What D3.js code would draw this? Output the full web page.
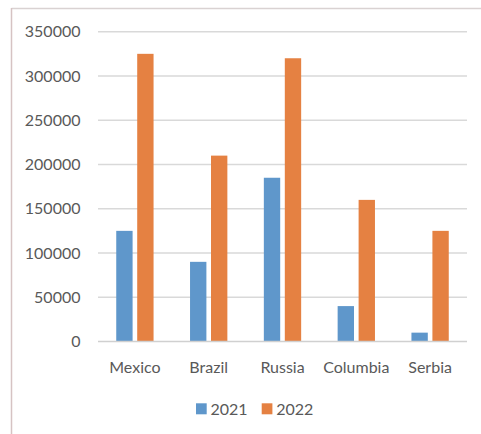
<!DOCTYPE html>
<html>
<head>
<meta charset="utf-8">
<script src="https://cdn.jsdelivr.net/npm/d3@7"></script>
<style>
  html, body { margin: 0; padding: 0; background: #fff; }
  svg { display: block; }
  text { font-family: Lato, "Open Sans", sans-serif; fill: #595959; }
</style>
</head>
<body>
<svg id="chart" width="481" height="434"></svg>
<script>
// Countries and yearly values
const categories = ["Mexico", "Brazil", "Russia", "Columbia", "Serbia"];
const seriesNames = ["2021", "2022"];
const values2021 = [125000, 90000, 185000, 40000, 10000];
const values2022 = [325000, 210000, 320000, 160000, 125000];
const yTicks = [0, 50000, 100000, 150000, 200000, 250000, 300000, 350000];
const colors = ["#5f97cb", "#e58142"];

const series = [values2021, values2022];

const svg = d3.select("#chart");
const W = 481, H = 434;

// Frame: top and left edges
svg.append("line").attr("x1", 11.5).attr("x2", W).attr("y1", 8.5).attr("y2", 8.5)
  .attr("stroke", "#d9d2d2").attr("stroke-width", 1.5);
svg.append("line").attr("x1", 11.5).attr("x2", 11.5).attr("y1", 8).attr("y2", H)
  .attr("stroke", "#d6c3c3").attr("stroke-width", 1.5);

const plot = { left: 98, right: 467, top: 31.7, bottom: 341.5 };

const x = d3.scaleBand().domain(categories).range([plot.left, plot.right]);
const xs = d3.scaleBand().domain(seriesNames).range([0, x.bandwidth()])
  .paddingInner(0.22).paddingOuter(0.87);
const y = d3.scaleLinear().domain([0, 350000]).range([plot.bottom, plot.top]);

// Gridlines
svg.append("g").selectAll("line").data(yTicks.filter(d => d > 0)).join("line")
  .attr("x1", plot.left).attr("x2", plot.right)
  .attr("y1", d => y(d)).attr("y2", d => y(d))
  .attr("stroke", "#d9d9d9").attr("stroke-width", 1.5);

// Y axis labels
const yAxis = d3.axisLeft(y).tickValues(yTicks).tickSize(0).tickPadding(0)
  .tickFormat(d3.format("d"));
const gy = svg.append("g").attr("transform", `translate(${plot.left - 17.5},0)`).call(yAxis);
gy.select(".domain").remove();
gy.selectAll("text").attr("font-size", 16).attr("fill", "#595959")
  .style("font-family", "Lato, 'Open Sans', sans-serif");

// Bars
const groups = svg.append("g").selectAll("g").data(categories).join("g")
  .attr("transform", d => `translate(${x(d)},0)`);
groups.selectAll("rect")
  .data((c, i) => seriesNames.map((s, j) => ({ s, v: series[j][i], j })))
  .join("rect")
  .attr("x", d => xs(d.s))
  .attr("width", xs.bandwidth())
  .attr("y", d => y(d.v))
  .attr("height", d => y(0) - y(d.v))
  .attr("fill", d => colors[d.j]);

// Category axis
const xAxis = d3.axisBottom(x).tickSize(0).tickPadding(0);
const gx = svg.append("g").attr("transform", `translate(0,${plot.bottom})`).call(xAxis);
gx.select(".domain").attr("stroke", "#d0d0d0").attr("stroke-width", 1.5)
  .attr("d", `M${plot.left},0H${plot.right}`);
gx.selectAll("text").attr("font-size", 16).attr("fill", "#595959").attr("dy", "1.95em")
  .style("font-family", "Lato, 'Open Sans', sans-serif");

// Legend
const legend = svg.append("g");
const legendX = [196, 261.7];
seriesNames.forEach((s, j) => {
  legend.append("rect").attr("x", legendX[j]).attr("y", 403.3)
    .attr("width", 10.7).attr("height", 11).attr("fill", colors[j]);
  legend.append("text").attr("x", legendX[j] + 14.5).attr("y", 414.5)
    .attr("font-size", 16).text(s);
});
</script>
</body>
</html>
